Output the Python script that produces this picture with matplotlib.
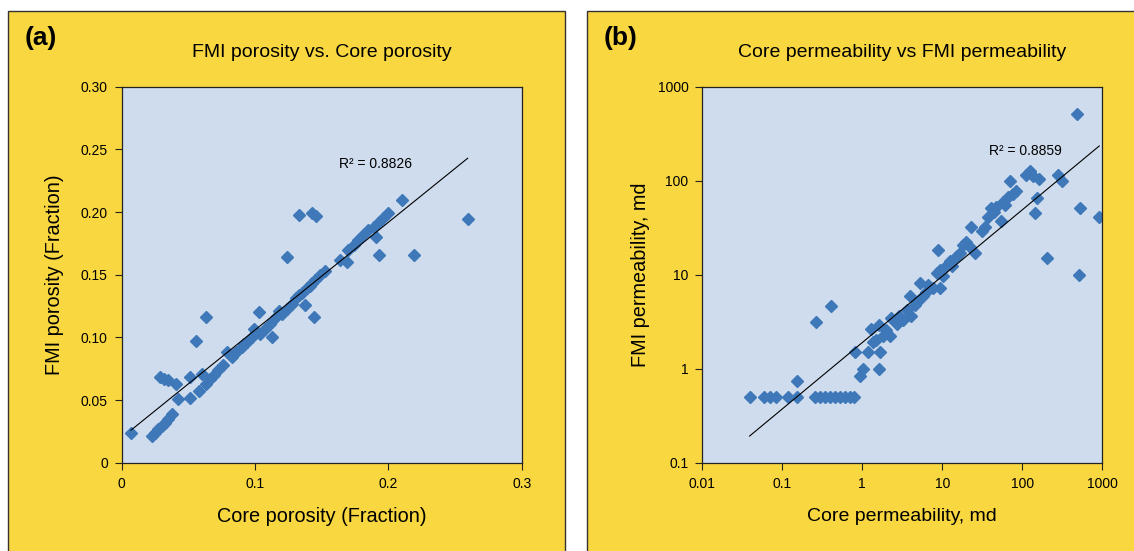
import numpy as np
import matplotlib
matplotlib.use("Agg")
import matplotlib.pyplot as plt
from matplotlib.patches import Rectangle

plt.rcParams['font.family'] = ['Liberation Sans', 'DejaVu Sans']

# (a) porosidade - core vs FMI (fraccao)
core_por = [0.007, 0.0225, 0.025, 0.0275, 0.030, 0.0325, 0.035, 0.0375,
            0.029, 0.032, 0.035, 0.041, 0.042, 0.051, 0.051, 0.056, 0.058,
            0.060, 0.063, 0.063, 0.066, 0.069, 0.0725, 0.076, 0.079, 0.0825,
            0.084, 0.086, 0.090, 0.092, 0.094, 0.0975, 0.099, 0.101, 0.103,
            0.104, 0.1075, 0.111, 0.113, 0.116, 0.118, 0.120, 0.124, 0.124,
            0.1275, 0.131, 0.133, 0.133, 0.135, 0.1375, 0.139, 0.141, 0.1425,
            0.143, 0.146, 0.144, 0.145, 0.149, 0.1525, 0.164, 0.169, 0.170,
            0.174, 0.1775, 0.181, 0.185, 0.191, 0.189, 0.193, 0.1925, 0.196,
            0.200, 0.210, 0.219, 0.2595]
fmi_por = [0.024, 0.0215, 0.024, 0.0266, 0.029, 0.032, 0.035, 0.0386,
           0.068, 0.067, 0.066, 0.063, 0.0505, 0.052, 0.068, 0.097, 0.057,
           0.071, 0.116, 0.063, 0.067, 0.070, 0.074, 0.078, 0.0886, 0.0846,
           0.087, 0.0886, 0.0926, 0.095, 0.0965, 0.1005, 0.107, 0.104, 0.120,
           0.103, 0.107, 0.111, 0.1005, 0.116, 0.121, 0.119, 0.164, 0.123,
           0.127, 0.131, 0.1976, 0.134, 0.135, 0.126, 0.139, 0.141, 0.143,
           0.199, 0.197, 0.116, 0.146, 0.1497, 0.153, 0.1617, 0.160, 0.170,
           0.174, 0.178, 0.182, 0.186, 0.180, 0.188, 0.166, 0.191, 0.195,
           0.199, 0.2096, 0.166, 0.1947]

# (b) permeabilidade - core vs FMI (md)
core_perm = [0.039, 0.059, 0.070, 0.083, 0.119, 0.151, 0.154,
             0.256, 0.295, 0.34, 0.39, 0.45, 0.52, 0.60, 0.70, 0.78,
             0.265, 0.41, 0.81, 0.93, 1.02, 1.19, 1.27, 1.63, 1.67, 1.63,
             1.5, 1.8, 2.2, 2.3, 2.7, 2.9, 3.6, 4.0, 4.1, 4.9, 5.3, 5.8, 6.7,
             7.7, 8.9, 8.5, 9.3, 9.3, 11.2, 12.4, 14.3, 16.5, 18.2, 20.0, 22,
             25.5, 23, 31, 34, 37.5, 41, 47.5, 54.5, 61, 70, 76, 84, 111, 125,
             138, 163, 154, 145, 201, 282, 310, 478, 525, 515, 917,
             1.35, 2.0, 3.2, 4.5, 6.2, 10.3, 13.2, 15.5, 44, 58, 66]
fmi_perm = [0.5, 0.5, 0.5, 0.5, 0.5, 0.5, 0.74,
            0.5, 0.5, 0.5, 0.5, 0.5, 0.5, 0.5, 0.5, 0.5,
            3.1, 4.6, 1.5, 0.84, 1.0, 1.5, 2.64, 1.0, 1.5, 2.9,
            2.0, 2.2, 2.24, 3.5, 3.0, 3.6, 4.2, 5.9, 3.6, 5.1, 8.1, 5.9, 7.8,
            7.2, 18.3, 10.4, 11.3, 7.2, 12.3, 13.9, 15.0, 16.9, 20.8, 22.0, 19.9,
            16.9, 32.5, 28.8, 32.5, 41, 51, 53, 37, 55, 100, 73, 77, 116, 126,
            112, 103, 65.6, 45.6, 15.0, 116, 99, 515, 51, 10, 40.8,
            1.9, 2.6, 3.3, 4.8, 6.6, 9.6, 12.5, 15.8, 46, 59, 67]

yellow = '#F9D740'
plot_bg = '#CFDCEE'
mk_color = '#3E78B9'

fig = plt.figure(figsize=(11.34, 5.51), dpi=100)

# paineis amarelos (atras dos eixos)
fig.patches.append(Rectangle((0.007, -0.02), 0.4912, 1.0, transform=fig.transFigure,
                             facecolor=yellow, edgecolor='#333333', lw=1.0, zorder=-5))
fig.patches.append(Rectangle((0.5176, -0.02), 0.5, 1.0, transform=fig.transFigure,
                             facecolor=yellow, edgecolor='#333333', lw=1.0, zorder=-5))

ax1 = fig.add_axes([0.1073, 0.1603, 0.3527, 0.6824])
ax2 = fig.add_axes([0.6193, 0.1603, 0.3527, 0.6824])

for ax in (ax1, ax2):
    ax.set_zorder(2)
    ax.set_facecolor(plot_bg)
    for s in ax.spines.values():
        s.set_color('#222222')
        s.set_linewidth(0.9)
    ax.tick_params(direction='out', length=5, width=0.8, labelsize=10,
                   color='#222222', pad=5)
    ax.tick_params(axis='x', pad=5)
    ax.minorticks_off()

# ---- (a)
ax1.plot(core_por, fmi_por, 'D', color=mk_color, ms=6.3, mec=mk_color, zorder=2)
cp = np.array(core_por)
coef = np.polyfit(cp, np.array(fmi_por), 1)
xl = np.array([cp.min(), cp.max()])
ax1.plot(xl, np.polyval(coef, xl), color='black', lw=0.8, zorder=3)
ax1.set_xlim(0, 0.3)
ax1.set_ylim(0, 0.3)
ax1.set_xticks([0, 0.1, 0.2, 0.3])
ax1.set_xticklabels(['0', '0.1', '0.2', '0.3'])
ax1.set_yticks([0, 0.05, 0.10, 0.15, 0.20, 0.25, 0.30])
ax1.set_yticklabels(['0', '0.05', '0.10', '0.15', '0.20', '0.25', '0.30'])
ax1.text(0.163, 0.238, 'R² = 0.8826', fontsize=10, va='center', ha='left')

# ---- (b)
ax2.plot(core_perm, fmi_perm, 'D', color=mk_color, ms=6.3, mec=mk_color, zorder=2)
lx = np.log10(core_perm)
coef2 = np.polyfit(lx, np.log10(fmi_perm), 1)
xl2 = np.array([lx.min(), lx.max()])
ax2.plot(10 ** xl2, 10 ** np.polyval(coef2, xl2), color='black', lw=0.8, zorder=3)
ax2.set_xscale('log')
ax2.set_yscale('log')
ax2.set_xlim(0.01, 1000)
ax2.set_ylim(0.1, 1000)
ax2.set_xticks([0.01, 0.1, 1, 10, 100, 1000])
ax2.set_xticklabels(['0.01', '0.1', '1', '10', '100', '1000'])
ax2.set_yticks([0.1, 1, 10, 100, 1000])
ax2.set_yticklabels(['0.1', '1', '10', '100', '1000'])
ax2.minorticks_off()
ax2.text(38.4, 206, 'R² = 0.8859', fontsize=10, va='center', ha='left')

# titulos e rotulos
fig.text(0.022, 0.931, '(a)', fontsize=19, fontweight='bold', va='center')
fig.text(0.5325, 0.931, '(b)', fontsize=19, fontweight='bold', va='center')
fig.text(0.2837, 0.904, 'FMI porosity vs. Core porosity', fontsize=14,
         ha='center', va='center')
fig.text(0.7957, 0.904, 'Core permeability vs FMI permeability', fontsize=14,
         ha='center', va='center')
fig.text(0.2837, 0.062, 'Core porosity (Fraction)', fontsize=14.3,
         ha='center', va='center')
fig.text(0.7957, 0.062, 'Core permeability, md', fontsize=14,
         ha='center', va='center')
fig.text(0.0485, 0.5015, 'FMI porosity (Fraction)', fontsize=14.3,
         ha='center', va='center', rotation=90)
fig.text(0.5644, 0.5015, 'FMI permeability, md', fontsize=14.3,
         ha='center', va='center', rotation=90)

plt.savefig('out.png', dpi=100, facecolor='white')
